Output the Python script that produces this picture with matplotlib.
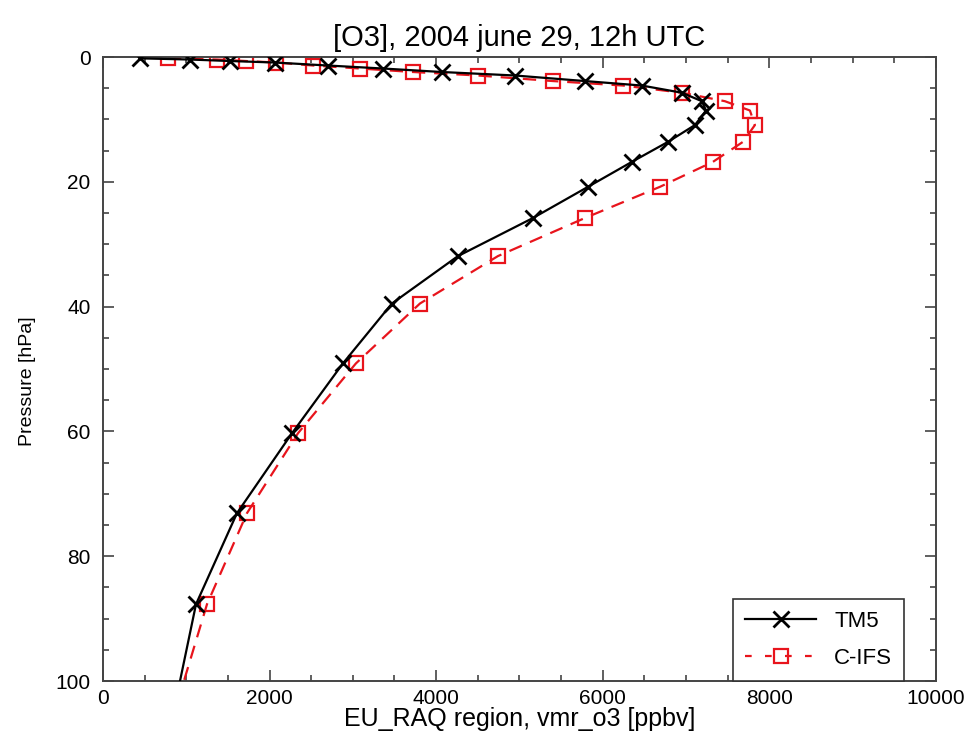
import numpy as np
import matplotlib
matplotlib.use("Agg")
import matplotlib.pyplot as plt
from matplotlib.ticker import MultipleLocator

plt.rcParams['font.family'] = ['Liberation Sans', 'DejaVu Sans']

# model levels (hPa) and ozone mixing ratios (ppbv) for both models
pressure = [0.21, 0.40, 0.64, 0.88, 1.36, 1.84, 2.40, 2.96, 3.85, 4.57,
            5.72, 7.08, 8.57, 10.9, 13.6, 16.8, 20.8, 25.8, 31.9, 39.5,
            49.1, 60.3, 73.1, 87.7, 100.0]
tm5 = [444, 1044, 1525, 2065, 2701, 3361, 4070, 4946, 5786, 6470,
       6950, 7190, 7240, 7107, 6783, 6350, 5823, 5162, 4262, 3469,
       2881, 2269, 1609, 1117, 925]
cifs = [780, 1369, 1717, 2077, 2521, 3085, 3722, 4502, 5402, 6243,
        6950, 7467, 7767, 7827, 7683, 7323, 6687, 5786, 4742, 3806,
        3037, 2341, 1729, 1249, 972]

red = '#e8141c'

fig = plt.figure(figsize=(9.74, 7.34), dpi=100)
ax = fig.add_axes([0.1057, 0.0722, 0.8552, 0.8501])

# lines run to the bottom level, markers stop one level above it
ax.plot(tm5, pressure, color='black', lw=1.6, zorder=3)
ax.plot(tm5[:-1], pressure[:-1], ls='none', marker='x', ms=12, mew=2,
        color='black', zorder=4)
ax.plot(cifs, pressure, color=red, lw=1.6, ls=(0, (6, 4)), zorder=2)
ax.plot(cifs[:-1], pressure[:-1], ls='none', marker='s', ms=10, mew=1.6,
        mfc='none', mec=red, zorder=2)

ax.set_xlim(0, 10000)
ax.set_ylim(100, 0)
ax.xaxis.set_major_locator(MultipleLocator(2000))
ax.xaxis.set_minor_locator(MultipleLocator(500))
ax.yaxis.set_major_locator(MultipleLocator(20))
ax.yaxis.set_minor_locator(MultipleLocator(5))
ax.tick_params(which='both', direction='in', top=True, right=True,
               color='#444444', width=1.2, labelsize=15)
ax.tick_params(axis='x', pad=6)
ax.tick_params(axis='y', pad=9)
ax.tick_params(which='major', length=8)
ax.tick_params(which='minor', length=4)
for s in ax.spines.values():
    s.set_color('#444444')
    s.set_linewidth(1.4)

ax.set_title('[O3], 2004 june 29, 12h UTC', fontsize=21, pad=8)
ax.set_xlabel('EU_RAQ region, vmr_o3 [ppbv]', fontsize=18, labelpad=-1)
ax.set_ylabel('Pressure [hPa]', fontsize=14)
ax.yaxis.set_label_coords(-0.08, 0.48)

h1, = ax.plot([], [], color='black', lw=1.6, marker='x', ms=12, mew=2)
h2, = ax.plot([], [], color=red, lw=1.6, ls=(0, (3, 6)), marker='s', ms=10,
              mew=1.6, mfc='none', mec=red)
leg = ax.legend([h1, h2], ['TM5', 'C-IFS'], loc='lower right',
                bbox_to_anchor=(0.962, 0.0), fontsize=16, fancybox=False,
                framealpha=1, edgecolor='#333333', handlelength=3.2,
                borderaxespad=0, borderpad=0.55, labelspacing=0.7,
                handletextpad=0.8)
leg.get_frame().set_linewidth(1.2)

fig.savefig('out.png', dpi=100)
